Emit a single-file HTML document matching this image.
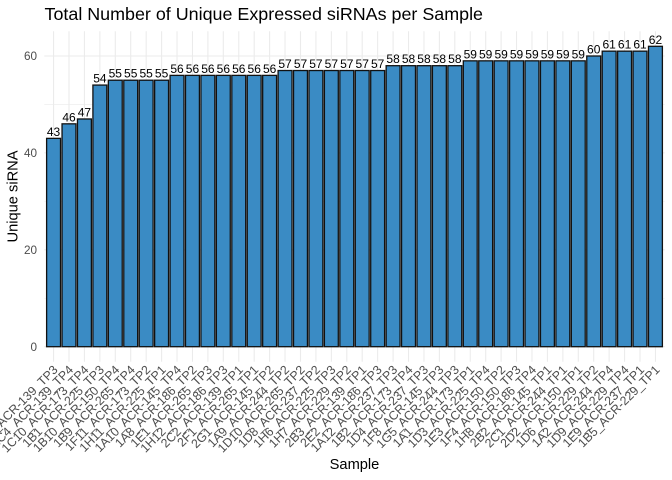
<!DOCTYPE html>
<html><head><meta charset="utf-8"><style>
html,body{margin:0;padding:0;background:#fff;}
svg{display:block;font-family:"Liberation Sans",Arial,sans-serif;}
.v{font-size:12px;fill:#000;text-anchor:middle;}
.t{font-size:11.73px;fill:#4d4d4d;text-anchor:end;}
.x{font-size:12.4px;fill:#4d4d4d;text-anchor:end;}
.bar{fill:#3a8bc4;stroke:#111;stroke-width:1.3;}
</style></head><body>
<svg width="672" height="480" viewBox="0 0 672 480" xmlns="http://www.w3.org/2000/svg">
<rect width="672" height="480" fill="#fff"/>
<!-- minor grid -->
<g stroke="#ebebeb" stroke-width="0.55">
<line x1="44.3" x2="664.7" y1="298.25" y2="298.25"/>
<line x1="44.3" x2="664.7" y1="201.35" y2="201.35"/>
<line x1="44.3" x2="664.7" y1="104.45" y2="104.45"/>
</g>
<!-- major grid -->
<g stroke="#ebebeb" stroke-width="1.07">
<line x1="44.3" x2="664.7" y1="346.7" y2="346.7"/>
<line x1="44.3" x2="664.7" y1="249.8" y2="249.8"/>
<line x1="44.3" x2="664.7" y1="152.9" y2="152.9"/>
<line x1="44.3" x2="664.7" y1="56" y2="56"/>
<line x1="53.56" x2="53.56" y1="31.3" y2="361.7"/>
<line x1="68.99" x2="68.99" y1="31.3" y2="361.7"/>
<line x1="84.43" x2="84.43" y1="31.3" y2="361.7"/>
<line x1="99.86" x2="99.86" y1="31.3" y2="361.7"/>
<line x1="115.29" x2="115.29" y1="31.3" y2="361.7"/>
<line x1="130.72" x2="130.72" y1="31.3" y2="361.7"/>
<line x1="146.16" x2="146.16" y1="31.3" y2="361.7"/>
<line x1="161.59" x2="161.59" y1="31.3" y2="361.7"/>
<line x1="177.02" x2="177.02" y1="31.3" y2="361.7"/>
<line x1="192.46" x2="192.46" y1="31.3" y2="361.7"/>
<line x1="207.89" x2="207.89" y1="31.3" y2="361.7"/>
<line x1="223.32" x2="223.32" y1="31.3" y2="361.7"/>
<line x1="238.76" x2="238.76" y1="31.3" y2="361.7"/>
<line x1="254.19" x2="254.19" y1="31.3" y2="361.7"/>
<line x1="269.62" x2="269.62" y1="31.3" y2="361.7"/>
<line x1="285.05" x2="285.05" y1="31.3" y2="361.7"/>
<line x1="300.49" x2="300.49" y1="31.3" y2="361.7"/>
<line x1="315.92" x2="315.92" y1="31.3" y2="361.7"/>
<line x1="331.35" x2="331.35" y1="31.3" y2="361.7"/>
<line x1="346.79" x2="346.79" y1="31.3" y2="361.7"/>
<line x1="362.22" x2="362.22" y1="31.3" y2="361.7"/>
<line x1="377.65" x2="377.65" y1="31.3" y2="361.7"/>
<line x1="393.09" x2="393.09" y1="31.3" y2="361.7"/>
<line x1="408.52" x2="408.52" y1="31.3" y2="361.7"/>
<line x1="423.95" x2="423.95" y1="31.3" y2="361.7"/>
<line x1="439.38" x2="439.38" y1="31.3" y2="361.7"/>
<line x1="454.82" x2="454.82" y1="31.3" y2="361.7"/>
<line x1="470.25" x2="470.25" y1="31.3" y2="361.7"/>
<line x1="485.68" x2="485.68" y1="31.3" y2="361.7"/>
<line x1="501.12" x2="501.12" y1="31.3" y2="361.7"/>
<line x1="516.55" x2="516.55" y1="31.3" y2="361.7"/>
<line x1="531.98" x2="531.98" y1="31.3" y2="361.7"/>
<line x1="547.42" x2="547.42" y1="31.3" y2="361.7"/>
<line x1="562.85" x2="562.85" y1="31.3" y2="361.7"/>
<line x1="578.28" x2="578.28" y1="31.3" y2="361.7"/>
<line x1="593.71" x2="593.71" y1="31.3" y2="361.7"/>
<line x1="609.15" x2="609.15" y1="31.3" y2="361.7"/>
<line x1="624.58" x2="624.58" y1="31.3" y2="361.7"/>
<line x1="640.01" x2="640.01" y1="31.3" y2="361.7"/>
<line x1="655.45" x2="655.45" y1="31.3" y2="361.7"/>
</g>

<!-- y axis labels -->
<g class="t">
<text x="37" y="350.9">0</text>
<text x="37" y="254">20</text>
<text x="37" y="157.1">40</text>
<text x="37" y="60.2">60</text>
</g>

<!-- bars, values, tick labels -->
<g transform="translate(53.56,0)"><rect class="bar" x="-6.95" y="138.36" width="13.9" height="208.34"/><text class="v" x="0" y="135.86">43</text><text class="x" transform="translate(5,370.5) rotate(-45)">1C12_ACR-139_TP3</text></g>
<g transform="translate(68.99,0)"><rect class="bar" x="-6.95" y="123.83" width="13.9" height="222.87"/><text class="v" x="0" y="121.33">46</text><text class="x" transform="translate(5,370.5) rotate(-45)">1C4_ACR-139_TP4</text></g>
<g transform="translate(84.43,0)"><rect class="bar" x="-6.95" y="118.98" width="13.9" height="227.72"/><text class="v" x="0" y="116.48">47</text><text class="x" transform="translate(5,370.5) rotate(-45)">1C10_ACR-173_TP4</text></g>
<g transform="translate(99.86,0)"><rect class="bar" x="-6.95" y="85.07" width="13.9" height="261.63"/><text class="v" x="0" y="82.57">54</text><text class="x" transform="translate(5,370.5) rotate(-45)">1B1_ACR-225_TP3</text></g>
<g transform="translate(115.29,0)"><rect class="bar" x="-6.95" y="80.22" width="13.9" height="266.48"/><text class="v" x="0" y="77.72">55</text><text class="x" transform="translate(5,370.5) rotate(-45)">1B10_ACR-150_TP4</text></g>
<g transform="translate(130.72,0)"><rect class="bar" x="-6.95" y="80.22" width="13.9" height="266.48"/><text class="v" x="0" y="77.72">55</text><text class="x" transform="translate(5,370.5) rotate(-45)">1B9_ACR-265_TP4</text></g>
<g transform="translate(146.16,0)"><rect class="bar" x="-6.95" y="80.22" width="13.9" height="266.48"/><text class="v" x="0" y="77.72">55</text><text class="x" transform="translate(5,370.5) rotate(-45)">1F11_ACR-173_TP2</text></g>
<g transform="translate(161.59,0)"><rect class="bar" x="-6.95" y="80.22" width="13.9" height="266.48"/><text class="v" x="0" y="77.72">55</text><text class="x" transform="translate(5,370.5) rotate(-45)">1H11_ACR-225_TP1</text></g>
<g transform="translate(177.02,0)"><rect class="bar" x="-6.95" y="75.38" width="13.9" height="271.32"/><text class="v" x="0" y="72.88">56</text><text class="x" transform="translate(5,370.5) rotate(-45)">1A10_ACR-145_TP4</text></g>
<g transform="translate(192.46,0)"><rect class="bar" x="-6.95" y="75.38" width="13.9" height="271.32"/><text class="v" x="0" y="72.88">56</text><text class="x" transform="translate(5,370.5) rotate(-45)">1A8_ACR-186_TP2</text></g>
<g transform="translate(207.89,0)"><rect class="bar" x="-6.95" y="75.38" width="13.9" height="271.32"/><text class="v" x="0" y="72.88">56</text><text class="x" transform="translate(5,370.5) rotate(-45)">1E1_ACR-265_TP3</text></g>
<g transform="translate(223.32,0)"><rect class="bar" x="-6.95" y="75.38" width="13.9" height="271.32"/><text class="v" x="0" y="72.88">56</text><text class="x" transform="translate(5,370.5) rotate(-45)">1H12_ACR-186_TP3</text></g>
<g transform="translate(238.76,0)"><rect class="bar" x="-6.95" y="75.38" width="13.9" height="271.32"/><text class="v" x="0" y="72.88">56</text><text class="x" transform="translate(5,370.5) rotate(-45)">2C2_ACR-139_TP1</text></g>
<g transform="translate(254.19,0)"><rect class="bar" x="-6.95" y="75.38" width="13.9" height="271.32"/><text class="v" x="0" y="72.88">56</text><text class="x" transform="translate(5,370.5) rotate(-45)">2F1_ACR-265_TP1</text></g>
<g transform="translate(269.62,0)"><rect class="bar" x="-6.95" y="75.38" width="13.9" height="271.32"/><text class="v" x="0" y="72.88">56</text><text class="x" transform="translate(5,370.5) rotate(-45)">2G1_ACR-145_TP2</text></g>
<g transform="translate(285.05,0)"><rect class="bar" x="-6.95" y="70.53" width="13.9" height="276.17"/><text class="v" x="0" y="68.03">57</text><text class="x" transform="translate(5,370.5) rotate(-45)">1A9_ACR-244_TP2</text></g>
<g transform="translate(300.49,0)"><rect class="bar" x="-6.95" y="70.53" width="13.9" height="276.17"/><text class="v" x="0" y="68.03">57</text><text class="x" transform="translate(5,370.5) rotate(-45)">1D10_ACR-265_TP2</text></g>
<g transform="translate(315.92,0)"><rect class="bar" x="-6.95" y="70.53" width="13.9" height="276.17"/><text class="v" x="0" y="68.03">57</text><text class="x" transform="translate(5,370.5) rotate(-45)">1D8_ACR-237_TP2</text></g>
<g transform="translate(331.35,0)"><rect class="bar" x="-6.95" y="70.53" width="13.9" height="276.17"/><text class="v" x="0" y="68.03">57</text><text class="x" transform="translate(5,370.5) rotate(-45)">1H6_ACR-225_TP3</text></g>
<g transform="translate(346.79,0)"><rect class="bar" x="-6.95" y="70.53" width="13.9" height="276.17"/><text class="v" x="0" y="68.03">57</text><text class="x" transform="translate(5,370.5) rotate(-45)">1H7_ACR-229_TP2</text></g>
<g transform="translate(362.22,0)"><rect class="bar" x="-6.95" y="70.53" width="13.9" height="276.17"/><text class="v" x="0" y="68.03">57</text><text class="x" transform="translate(5,370.5) rotate(-45)">2B3_ACR-139_TP1</text></g>
<g transform="translate(377.65,0)"><rect class="bar" x="-6.95" y="70.53" width="13.9" height="276.17"/><text class="v" x="0" y="68.03">57</text><text class="x" transform="translate(5,370.5) rotate(-45)">2E2_ACR-186_TP3</text></g>
<g transform="translate(393.09,0)"><rect class="bar" x="-6.95" y="65.69" width="13.9" height="281.01"/><text class="v" x="0" y="63.19">58</text><text class="x" transform="translate(5,370.5) rotate(-45)">1A12_ACR-237_TP3</text></g>
<g transform="translate(408.52,0)"><rect class="bar" x="-6.95" y="65.69" width="13.9" height="281.01"/><text class="v" x="0" y="63.19">58</text><text class="x" transform="translate(5,370.5) rotate(-45)">1B2_ACR-173_TP4</text></g>
<g transform="translate(423.95,0)"><rect class="bar" x="-6.95" y="65.69" width="13.9" height="281.01"/><text class="v" x="0" y="63.19">58</text><text class="x" transform="translate(5,370.5) rotate(-45)">1D4_ACR-237_TP3</text></g>
<g transform="translate(439.38,0)"><rect class="bar" x="-6.95" y="65.69" width="13.9" height="281.01"/><text class="v" x="0" y="63.19">58</text><text class="x" transform="translate(5,370.5) rotate(-45)">1F8_ACR-145_TP3</text></g>
<g transform="translate(454.82,0)"><rect class="bar" x="-6.95" y="65.69" width="13.9" height="281.01"/><text class="v" x="0" y="63.19">58</text><text class="x" transform="translate(5,370.5) rotate(-45)">1G5_ACR-244_TP3</text></g>
<g transform="translate(470.25,0)"><rect class="bar" x="-6.95" y="60.84" width="13.9" height="285.86"/><text class="v" x="0" y="58.34">59</text><text class="x" transform="translate(5,370.5) rotate(-45)">1A1_ACR-173_TP1</text></g>
<g transform="translate(485.68,0)"><rect class="bar" x="-6.95" y="60.84" width="13.9" height="285.86"/><text class="v" x="0" y="58.34">59</text><text class="x" transform="translate(5,370.5) rotate(-45)">1D3_ACR-225_TP4</text></g>
<g transform="translate(501.12,0)"><rect class="bar" x="-6.95" y="60.84" width="13.9" height="285.86"/><text class="v" x="0" y="58.34">59</text><text class="x" transform="translate(5,370.5) rotate(-45)">1E3_ACR-150_TP2</text></g>
<g transform="translate(516.55,0)"><rect class="bar" x="-6.95" y="60.84" width="13.9" height="285.86"/><text class="v" x="0" y="58.34">59</text><text class="x" transform="translate(5,370.5) rotate(-45)">1F4_ACR-150_TP3</text></g>
<g transform="translate(531.98,0)"><rect class="bar" x="-6.95" y="60.84" width="13.9" height="285.86"/><text class="v" x="0" y="58.34">59</text><text class="x" transform="translate(5,370.5) rotate(-45)">1H8_ACR-186_TP4</text></g>
<g transform="translate(547.42,0)"><rect class="bar" x="-6.95" y="60.84" width="13.9" height="285.86"/><text class="v" x="0" y="58.34">59</text><text class="x" transform="translate(5,370.5) rotate(-45)">2B2_ACR-145_TP1</text></g>
<g transform="translate(562.85,0)"><rect class="bar" x="-6.95" y="60.84" width="13.9" height="285.86"/><text class="v" x="0" y="58.34">59</text><text class="x" transform="translate(5,370.5) rotate(-45)">2C1_ACR-244_TP1</text></g>
<g transform="translate(578.28,0)"><rect class="bar" x="-6.95" y="60.84" width="13.9" height="285.86"/><text class="v" x="0" y="58.34">59</text><text class="x" transform="translate(5,370.5) rotate(-45)">2D2_ACR-150_TP1</text></g>
<g transform="translate(593.71,0)"><rect class="bar" x="-6.95" y="56" width="13.9" height="290.7"/><text class="v" x="0" y="53.5">60</text><text class="x" transform="translate(5,370.5) rotate(-45)">1D6_ACR-229_TP2</text></g>
<g transform="translate(609.15,0)"><rect class="bar" x="-6.95" y="51.15" width="13.9" height="295.55"/><text class="v" x="0" y="48.65">61</text><text class="x" transform="translate(5,370.5) rotate(-45)">1A2_ACR-244_TP4</text></g>
<g transform="translate(624.58,0)"><rect class="bar" x="-6.95" y="51.15" width="13.9" height="295.55"/><text class="v" x="0" y="48.65">61</text><text class="x" transform="translate(5,370.5) rotate(-45)">1D9_ACR-229_TP4</text></g>
<g transform="translate(640.01,0)"><rect class="bar" x="-6.95" y="51.15" width="13.9" height="295.55"/><text class="v" x="0" y="48.65">61</text><text class="x" transform="translate(5,370.5) rotate(-45)">1E9_ACR-237_TP1</text></g>
<g transform="translate(655.45,0)"><rect class="bar" x="-6.95" y="46.31" width="13.9" height="300.39"/><text class="v" x="0" y="43.81">62</text><text class="x" transform="translate(5,370.5) rotate(-45)">1B5_ACR-229_TP1</text></g>

<!-- titles -->
<text x="44.5" y="20.2" font-size="17.9" fill="#000">Total Number of Unique Expressed siRNAs per Sample</text>
<text transform="translate(17.6,196.5) rotate(-90)" font-size="14.67" fill="#000" text-anchor="middle">Unique siRNA</text>
<text x="354.5" y="468.8" font-size="14.67" fill="#000" text-anchor="middle">Sample</text>
</svg>
</body></html>
